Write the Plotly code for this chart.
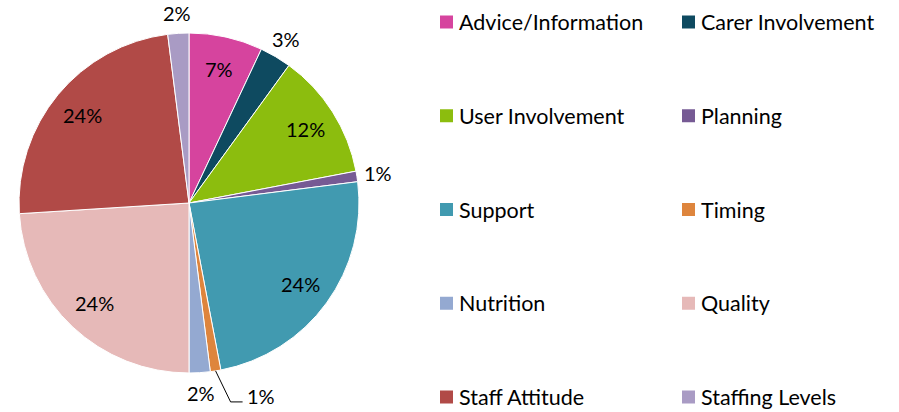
import math
import plotly.graph_objects as go

# Share of comments by theme (percent of total)
categories = [
    "Advice/Information", "Carer Involvement", "User Involvement", "Planning",
    "Support", "Timing", "Nutrition", "Quality", "Staff Attitude", "Staffing Levels",
]
shares = [7, 3, 12, 1, 24, 1, 2, 24, 24, 2]
colors = [
    "#D6449E", "#0E4A60", "#8CBD0E", "#765A94", "#419AB0",
    "#DE853D", "#94A9D1", "#E6B9B8", "#B14A47", "#A99BC4",
]

FONT = "Lato, 'Open Sans', sans-serif"
W, H = 899, 412

# Pie geometry in pixels
CX, CY, R = 189, 203, 170


def px(x):
    return x / W


def py(y):
    return 1 - y / H


fig = go.Figure(
    go.Pie(
        labels=categories,
        values=shares,
        sort=False,
        direction="clockwise",
        rotation=0,
        marker=dict(colors=colors, line=dict(color="white", width=1)),
        textinfo="none",
        domain=dict(x=[px(CX - R), px(CX + R)], y=[py(CY + R), py(CY - R)]),
        showlegend=False,
        hoverinfo="label+percent",
    )
)

shapes, annotations = [], []
label_font = dict(family=FONT, size=20, color="#000000")

# Percentage labels: inside for large slices, just outside for small ones
total = sum(shares)
cum = 0
for name, s in zip(categories, shares):
    mid = (cum + s / 2) / total * 2 * math.pi
    cum += s
    sx, sy = math.sin(mid), -math.cos(mid)
    txt = f"{round(s / total * 100)}%"
    if s >= 5:
        d = 0.81 * R
        annotations.append(dict(
            text=txt, x=px(CX + d * sx), y=py(CY + d * sy),
            xref="paper", yref="paper", xanchor="center", yanchor="middle",
            showarrow=False, font=label_font,
        ))
    elif name == "Timing":
        # label pushed aside with an elbow leader line
        ex, ey = CX + R * sx, CY + R * sy
        kx, ky = ex + 15, ey + 31
        lx = kx + 12
        shapes.append(dict(
            type="path", xref="paper", yref="paper",
            path=f"M {px(ex)},{py(ey)} L {px(kx)},{py(ky)} L {px(lx)},{py(ky)}",
            line=dict(color="#000000", width=1),
        ))
        annotations.append(dict(
            text=txt, x=px(lx + 2), y=py(ky - 6),
            xref="paper", yref="paper", xanchor="left", yanchor="middle",
            showarrow=False, font=label_font,
        ))
    else:
        ex, ey = CX + R * sx, CY + R * sy
        annotations.append(dict(
            text=txt, x=px(ex + sx * 21), y=py(ey + sy * 20),
            xref="paper", yref="paper", xanchor="center", yanchor="middle",
            showarrow=False, font=label_font,
        ))

# Two-column legend laid out on a regular grid
col_x = [440, 682]
row_y0, row_step = 22, 93.75
sq = 13
for i, (name, col) in enumerate(zip(categories, colors)):
    r, c = divmod(i, 2)
    x0 = col_x[c]
    yc = row_y0 + r * row_step
    shapes.append(dict(
        type="rect", xref="paper", yref="paper",
        x0=px(x0), x1=px(x0 + sq),
        y0=py(yc + sq / 2), y1=py(yc - sq / 2),
        fillcolor=col, line=dict(width=0),
    ))
    annotations.append(dict(
        text=name, xref="paper", yref="paper",
        x=px(x0 + sq + 4), y=py(yc),
        xanchor="left", yanchor="middle", showarrow=False,
        font=dict(family=FONT, size=21.5, color="#000000"),
    ))

fig.update_layout(
    width=W, height=H,
    margin=dict(l=0, r=0, t=0, b=0),
    paper_bgcolor="white", plot_bgcolor="white",
    shapes=shapes, annotations=annotations,
)

fig.write_html("out.html")
